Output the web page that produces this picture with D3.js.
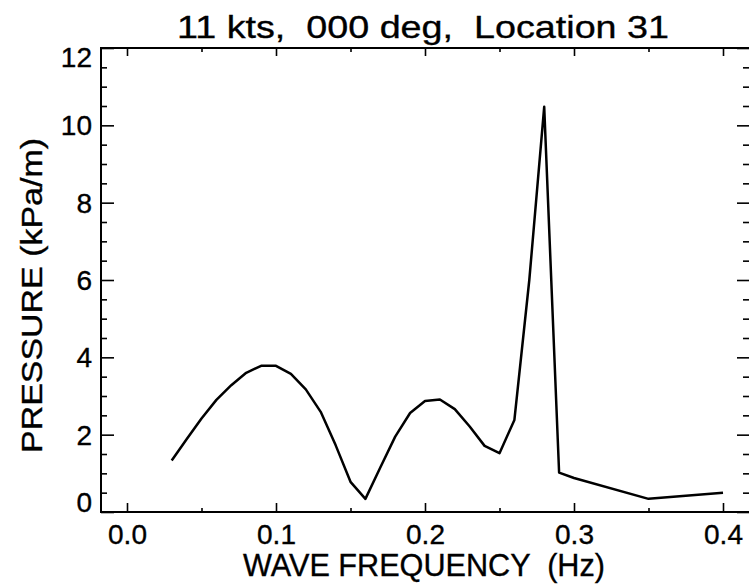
<!DOCTYPE html>
<html>
<head>
<meta charset="utf-8">
<script src="https://cdn.jsdelivr.net/npm/d3@7"></script>
<style>
  html, body { margin: 0; padding: 0; background: #fff; }
  svg { display: block; }
  text { font-family: "Liberation Sans", Arial, Helvetica, sans-serif; fill: #000; stroke: #000; stroke-width: 0.35px; }
</style>
</head>
<body>
<svg id="chart" width="749" height="588"></svg>
<script>
// ---- data ----
const freqs = [0.03, 0.04, 0.05, 0.06, 0.07, 0.08, 0.09, 0.10, 0.11, 0.12,
               0.13, 0.14, 0.15, 0.16, 0.17, 0.18, 0.19, 0.20, 0.21, 0.22,
               0.23, 0.24, 0.25, 0.26, 0.27, 0.28, 0.29, 0.30, 0.35, 0.40];
const pressure = [1.33, 1.88, 2.42, 2.90, 3.28, 3.60, 3.78, 3.78, 3.57, 3.17,
                  2.59, 1.73, 0.78, 0.34, 1.15, 1.95, 2.56, 2.87, 2.91, 2.66,
                  2.21, 1.71, 1.52, 2.38, 6.0, 10.48, 1.02, 0.88, 0.34, 0.50];
const xMajorTicks = [0.0, 0.1, 0.2, 0.3, 0.4];
const xMinorTicks = [0.05, 0.15, 0.25, 0.35];
const xTickLabels = ["0.0", "0.1", "0.2", "0.3", "0.4"];
const yMajorTicks = [0, 2, 4, 6, 8, 10, 12];
const yMinorTicks = [0.5,1,1.5,2.5,3,3.5,4.5,5,5.5,6.5,7,7.5,8.5,9,9.5,10.5,11,11.5];
const yTickLabels = ["0", "2", "4", "6", "8", "10", "12"];
const titleText = "11 kts,  000 deg,  Location 31";
const xTitle = "WAVE FREQUENCY  (Hz)";
const yTitle = "PRESSURE (kPa/m)";

// ---- layout ----
const L = 101, R = 750, T = 48, B = 512;
const svg = d3.select("#chart");

const x = d3.scaleLinear().domain([-0.01745, 0.41812]).range([L, R]);
const y = d3.scaleLinear().domain([0, 12]).range([B, T]);

const fmtX = d => xTickLabels[xMajorTicks.indexOf(d)];
const fmtY = d => yTickLabels[yMajorTicks.indexOf(d)];

function styleAxis(g) {
  g.select(".domain").remove();
  g.selectAll(".tick line").attr("stroke", "#000").attr("stroke-width", 1.6);
  g.selectAll(".tick text").style("font-size", "28px").attr("fill", "#000");
}

// bottom
svg.append("g").attr("transform", `translate(0,${B})`)
  .call(d3.axisBottom(x).tickValues(xMajorTicks).tickFormat(fmtX)
        .tickSizeInner(-9).tickSizeOuter(0).tickPadding(12))
  .call(styleAxis);
svg.append("g").attr("transform", `translate(0,${B})`)
  .call(d3.axisBottom(x).tickValues(xMinorTicks).tickFormat("")
        .tickSizeInner(-4).tickSizeOuter(0))
  .call(styleAxis);
// top
svg.append("g").attr("transform", `translate(0,${T})`)
  .call(d3.axisTop(x).tickValues(xMajorTicks).tickFormat("")
        .tickSizeInner(-8).tickSizeOuter(0))
  .call(styleAxis);
svg.append("g").attr("transform", `translate(0,${T})`)
  .call(d3.axisTop(x).tickValues(xMinorTicks).tickFormat("")
        .tickSizeInner(-4).tickSizeOuter(0))
  .call(styleAxis);
// left
const gl = svg.append("g").attr("transform", `translate(${L},0)`)
  .call(d3.axisLeft(y).tickValues(yMajorTicks).tickFormat(fmtY)
        .tickSizeInner(-13).tickSizeOuter(0).tickPadding(9))
  .call(styleAxis);
gl.selectAll(".tick text")
  .attr("dy", d => d === 12 ? "0.66em" : d === 0 ? "-0.03em" : "0.34em");
svg.append("g").attr("transform", `translate(${L},0)`)
  .call(d3.axisLeft(y).tickValues(yMinorTicks).tickFormat("")
        .tickSizeInner(-6).tickSizeOuter(0))
  .call(styleAxis);
// right
svg.append("g").attr("transform", `translate(${R},0)`)
  .call(d3.axisRight(y).tickValues(yMajorTicks).tickFormat("")
        .tickSizeInner(-13).tickSizeOuter(0))
  .call(styleAxis);
svg.append("g").attr("transform", `translate(${R},0)`)
  .call(d3.axisRight(y).tickValues(yMinorTicks).tickFormat("")
        .tickSizeInner(-7).tickSizeOuter(0))
  .call(styleAxis);

// frame
svg.append("rect")
  .attr("x", L).attr("y", T).attr("width", R - L).attr("height", B - T)
  .attr("fill", "none").attr("stroke", "#000").attr("stroke-width", 2);

// line
const data = freqs.map((f, i) => ({ f, p: pressure[i] }));
svg.append("path")
  .datum(data)
  .attr("fill", "none")
  .attr("stroke", "#000")
  .attr("stroke-width", 2.5)
  .attr("stroke-linejoin", "round")
  .attr("d", d3.line().x(d => x(d.f)).y(d => y(d.p)));

// titles
svg.append("text")
  .attr("x", 423).attr("y", 38)
  .attr("text-anchor", "middle")
  .style("font-size", "32px").style("white-space", "pre")
  .attr("textLength", 492).attr("lengthAdjust", "spacingAndGlyphs")
  .text(titleText);

svg.append("text")
  .attr("x", 424).attr("y", 576)
  .attr("text-anchor", "middle")
  .style("font-size", "32px").style("white-space", "pre")
  .attr("textLength", 362).attr("lengthAdjust", "spacingAndGlyphs")
  .text(xTitle);

svg.append("text")
  .attr("transform", "translate(41.5,295.5) rotate(-90)")
  .attr("text-anchor", "middle")
  .style("font-size", "30px")
  .attr("textLength", 315).attr("lengthAdjust", "spacingAndGlyphs")
  .text(yTitle);
</script>
</body>
</html>
